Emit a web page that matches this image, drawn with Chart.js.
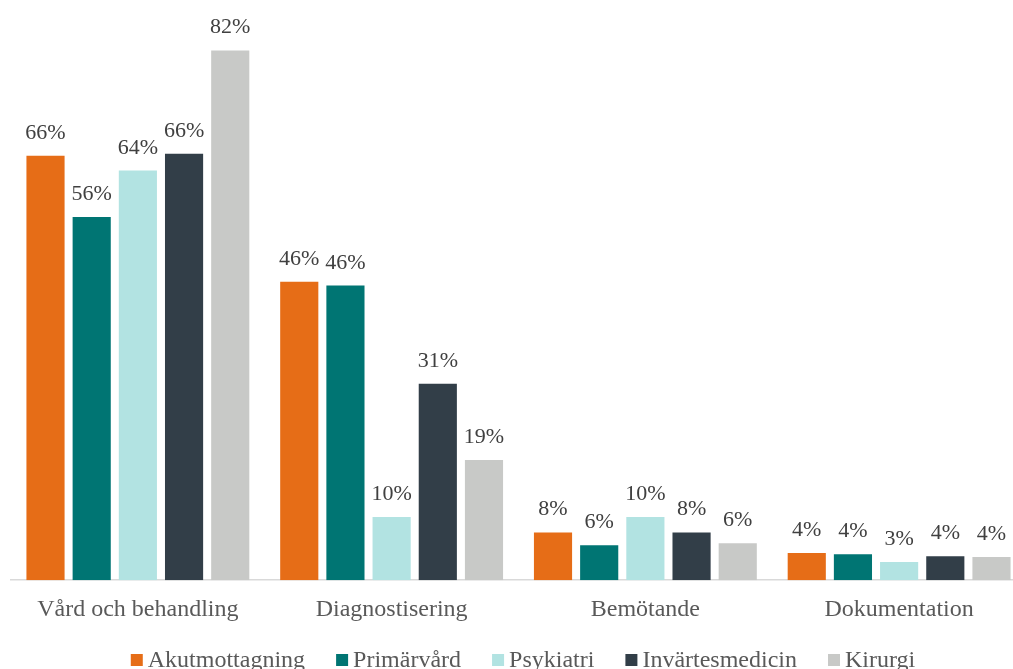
<!DOCTYPE html>
<html>
<head>
<meta charset="utf-8">
<script src="https://cdn.jsdelivr.net/npm/chart.js@4"></script>
<style>
  html, body { margin: 0; padding: 0; background: #fff; overflow: hidden; }
  #wrap { width: 1040px; height: 669px; }
</style>
</head>
<body>
<div id="wrap"><canvas id="chart"></canvas></div>
<script>
const categories = ["Vård och behandling", "Diagnostisering", "Bemötande", "Dokumentation"];

const akutmottagning = [65.7, 46.2, 7.4, 4.2];
const primarvard = [56.2, 45.6, 5.4, 4.0];
const psykiatri = [63.4, 9.8, 9.8, 2.8];
const invartesmedicin = [66.0, 30.4, 7.4, 3.7];
const kirurgi = [82.0, 18.6, 5.7, 3.6];

// labels as printed on the chart
const akutLabels = ["66%", "46%", "8%", "4%"];
const primLabels = ["56%", "46%", "6%", "4%"];
const psykLabels = ["64%", "10%", "10%", "3%"];
const invLabels = ["66%", "31%", "8%", "4%"];
const kirLabels = ["82%", "19%", "6%", "4%"];

const serif = "'Liberation Serif', 'Times New Roman', serif";

const barLabels = {
  id: "barLabels",
  afterDatasetsDraw(chart) {
    const ctx = chart.ctx;
    ctx.save();
    ctx.font = "22px " + serif;
    ctx.fillStyle = "#404040";
    ctx.textAlign = "center";
    ctx.textBaseline = "alphabetic";
    chart.data.datasets.forEach((ds, i) => {
      chart.getDatasetMeta(i).data.forEach((bar, j) => {
        ctx.fillText(ds.valueLabels[j], bar.x, bar.y - 17);
      });
    });
    ctx.restore();
  }
};

// legend drawn by hand: small square, short gap, text
const bottomLegend = {
  id: "bottomLegend",
  afterDraw(chart) {
    const ctx = chart.ctx;
    const box = 12, gap = 5, spacing = 31;
    ctx.save();
    ctx.font = "24px " + serif;
    ctx.textBaseline = "alphabetic";
    ctx.textAlign = "left";
    const items = chart.data.datasets.map((ds) => ({
      text: ds.label,
      color: ds.backgroundColor,
      w: ctx.measureText(ds.label).width
    }));
    let total = items.reduce((s, it) => s + box + gap + it.w, 0) + spacing * (items.length - 1);
    let x = 523 - total / 2;
    items.forEach((it) => {
      ctx.fillStyle = it.color;
      ctx.fillRect(x, 654, box, box);
      ctx.fillStyle = "#595959";
      ctx.fillText(it.text, x + box + gap, 667);
      x += box + gap + it.w + spacing;
    });
    ctx.restore();
  }
};

new Chart(document.getElementById("chart"), {
  type: "bar",
  data: {
    labels: categories,
    datasets: [
      { label: "Akutmottagning", data: akutmottagning, valueLabels: akutLabels, backgroundColor: "#e66d17" },
      { label: "Primärvård", data: primarvard, valueLabels: primLabels, backgroundColor: "#007573" },
      { label: "Psykiatri", data: psykiatri, valueLabels: psykLabels, backgroundColor: "#b2e3e2" },
      { label: "Invärtesmedicin", data: invartesmedicin, valueLabels: invLabels, backgroundColor: "#323e48" },
      { label: "Kirurgi", data: kirurgi, valueLabels: kirLabels, backgroundColor: "#c8c9c7" }
    ]
  },
  options: {
    responsive: true,
    maintainAspectRatio: false,
    animation: false,
    categoryPercentage: 0.91,
    barPercentage: 0.826,
    layout: { padding: { left: 11, right: 14, top: 31, bottom: 30 } },
    scales: {
      x: {
        grid: { display: false, drawTicks: false },
        border: { display: true, color: "#d9d9d9", width: 1.5 },
        ticks: { color: "#595959", padding: 15, font: { family: serif, size: 24 } }
      },
      y: { display: false, min: 0, max: 85 }
    },
    plugins: {
      legend: { display: false },
      tooltip: { enabled: false }
    }
  },
  plugins: [barLabels, bottomLegend]
});
</script>
</body>
</html>
